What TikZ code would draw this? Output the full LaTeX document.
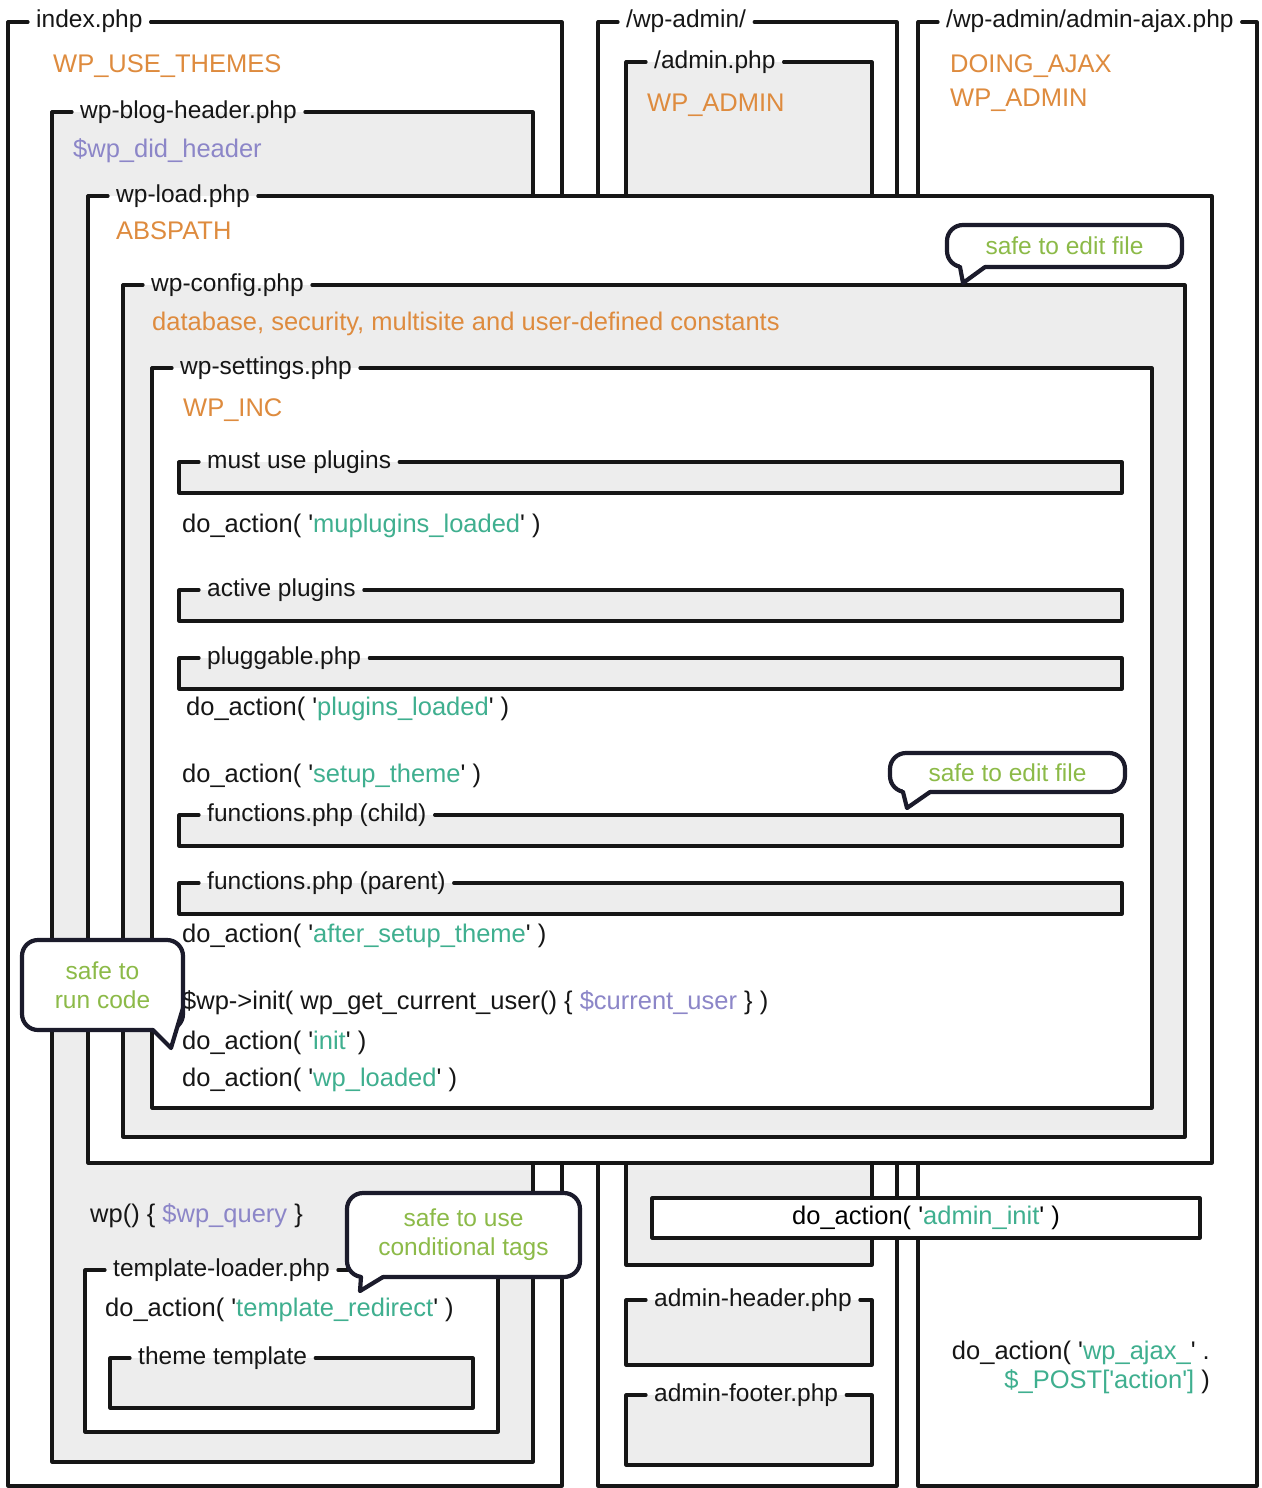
\documentclass[tikz,border=0pt]{standalone}
\usepackage{fontspec}
\setmainfont{Liberation Sans}[Ligatures=TeXOff]
\usetikzlibrary{calc}
\definecolor{Ink}{HTML}{161616}
\definecolor{Bubble}{HTML}{1B1B2B}
\definecolor{Shade}{HTML}{EDEDED}
\definecolor{Const}{HTML}{DE8B3E}
\definecolor{Var}{HTML}{8C86C8}
\definecolor{Hook}{HTML}{3FAF8F}
\definecolor{Safe}{HTML}{8CBA48}

\newcommand{\filebox}[7]{%
  \fill[#6] (#2,#3) rectangle (#4,#5);
  \coordinate (#1-top) at (#2,#3);
  \node[filelabel] (#1) at (#2+20,#3+6) {#7};
  \draw[frame] (#1.west |- #1-top) -- (#2,#3) -- (#2,#5) -- (#4,#5) -- (#4,#3) -- (#1.east |- #1-top);}

\begin{document}
\begin{tikzpicture}[x=1pt,y=-1pt,
  frame/.style={draw=Ink,line width=3.2pt,line join=round,line cap=round},
  filelabel/.style={anchor=base west,inner xsep=8pt,inner ysep=0pt,
   font=\fontsize{24.5}{29}\selectfont,text=Ink},
  code/.style={anchor=base west,inner sep=0pt,font=\fontsize{25.5}{29}\selectfont,text=Ink},
  const/.style={code,text=Const},
  bubble/.style={draw=Bubble,line width=4.2pt,fill=white,rounded corners=16pt,outer sep=0pt,
   align=center,inner sep=0pt,font=\fontsize{24.5}{29}\selectfont,text=Safe},
  tail/.style={draw=Bubble,line width=4.2pt,line join=round,line cap=round}]
  \useasboundingbox (0,0) rectangle (1261,1488);
  \fill[white] (0,0) rectangle (1261,1488);

  \filebox{index}{8}{22}{562}{1486}{white}{index.php}
  \filebox{blog}{52}{112}{533}{1462}{Shade}{wp-blog-header.php}
  \filebox{wpadmin}{598}{22}{897}{1486}{white}{/wp-admin/}
  \filebox{adminphp}{626}{62}{872}{1265}{Shade}{/admin.php}
  \filebox{ajax}{918}{22}{1257}{1486}{white}{/wp-admin/admin-ajax.php}
  \filebox{load}{88}{196}{1212}{1163}{white}{wp-load.php}
  \filebox{config}{123}{285}{1185}{1137}{Shade}{wp-config.php}
  \filebox{settings}{152}{368}{1152}{1108}{white}{wp-settings.php}
  \foreach \id/\yt/\txt in {mu/462/must use plugins,active/590/active plugins,
    pluggable/658/pluggable.php,child/815/functions.php (child),parent/883/functions.php (parent)}
    \filebox{\id}{179}{\yt}{1122}{\yt+31}{Shade}{\txt};

  \node[const] (usethemes) at (53,72) {WP\_USE\_THEMES};
  \node[code,text=Var] (didheader) at (73,157) {\$wp\_did\_header};
  \node[const] (abspath) at (116,239) {ABSPATH};
  \node[const] (constants) at (152,330) {database, security, multisite and user-defined constants};
  \node[const] (wpinc) at (183,416) {WP\_INC};
  \node[code] (muloaded) at (182,532) {do\_action( '\textcolor{Hook}{muplugins\_loaded}' )};
  \node[code] (pluginsloaded) at (186,715) {do\_action( '\textcolor{Hook}{plugins\_loaded}' )};
  \node[code] (setuptheme) at (182,782) {do\_action( '\textcolor{Hook}{setup\_theme}' )};
  \node[code] (aftersetup) at (182,942) {do\_action( '\textcolor{Hook}{after\_setup\_theme}' )};
  \node[code] (wpinit) at (182,1009) {\$wp->init( wp\_get\_current\_user() \{ \textcolor{Var}{\$current\_user} \} )};
  \node[code] (inithook) at (182,1049) {do\_action( '\textcolor{Hook}{init}' )};
  \node[code] (wploaded) at (182,1086) {do\_action( '\textcolor{Hook}{wp\_loaded}' )};

  \node[const] (wpadminconst) at (647,111) {WP\_ADMIN};
  \node[const] (doingajax) at (950,73) {DOING\_AJAX};
  \node[const] (ajaxadmin) at (950,106) {WP\_ADMIN};

  \node[code] (wpquery) at (90,1222) {wp() \{ \textcolor{Var}{\$wp\_query} \}};
  \filebox{loader}{85}{1270}{498}{1432}{white}{template-loader.php}
  \node[code] (redirect) at (105,1316) {do\_action( '\textcolor{Hook}{template\_redirect}' )};
  \filebox{theme}{110}{1358}{473}{1408}{Shade}{theme template}

  \node[frame,fill=white,minimum width=548pt,minimum height=40pt,inner sep=0pt,
    font=\fontsize{25.5}{29}\selectfont] (admininit) at (926,1218)
    {do\_action( '\textcolor{Hook}{admin\_init}' )};
  \filebox{adminheader}{626}{1300}{872}{1365}{Shade}{admin-header.php}
  \filebox{adminfooter}{626}{1395}{872}{1465}{Shade}{admin-footer.php}
  \node[code,anchor=east,align=right] (ajaxhook) at (1210,1367)
    {do\_action( '\textcolor{Hook}{wp\_ajax\_}' .\\\textcolor{Hook}{\$\_POST['action']} )};

  \node[bubble,minimum width=235pt,minimum height=42pt] (editcfg) at (1064.5,246) {safe to edit file};
  \begin{scope}[shift={(editcfg.south west)}]
    \fill[white] (13,-6) -- (13,0) -- (16,16) -- (38,0) -- (38,-6) -- cycle;
    \draw[tail] (13,0) -- (16,16) -- (38,0);
  \end{scope}
  \node[bubble,minimum width=235pt,minimum height=39pt] (editfn) at (1007.5,772.5) {safe to edit file};
  \begin{scope}[shift={(editfn.south west)}]
    \fill[white] (13,-6) -- (13,0) -- (17,16) -- (40,0) -- (40,-6) -- cycle;
    \draw[tail] (13,0) -- (17,16) -- (40,0);
  \end{scope}
  \node[bubble,minimum width=161pt,minimum height=90pt] (runcode) at (102.5,985) {safe to\\run code};
  \begin{scope}[shift={(runcode.south east)}]
    \fill[white] (-30,-6) -- (-30,0) -- (-12,18) -- (0,-22) -- (-6,-22) -- cycle;
    \draw[tail] (-30,0) -- (-12,18) -- (0,-22);
  \end{scope}
  \node[bubble,minimum width=233pt,minimum height=84pt] (condtags) at (463.5,1235) {safe to use\\conditional tags};
  \begin{scope}[shift={(condtags.south west)}]
    \fill[white] (14,-6) -- (14,0) -- (13,14) -- (36,0) -- (36,-6) -- cycle;
    \draw[tail] (14,0) -- (13,14) -- (36,0);
  \end{scope}
\end{tikzpicture}
\end{document}
